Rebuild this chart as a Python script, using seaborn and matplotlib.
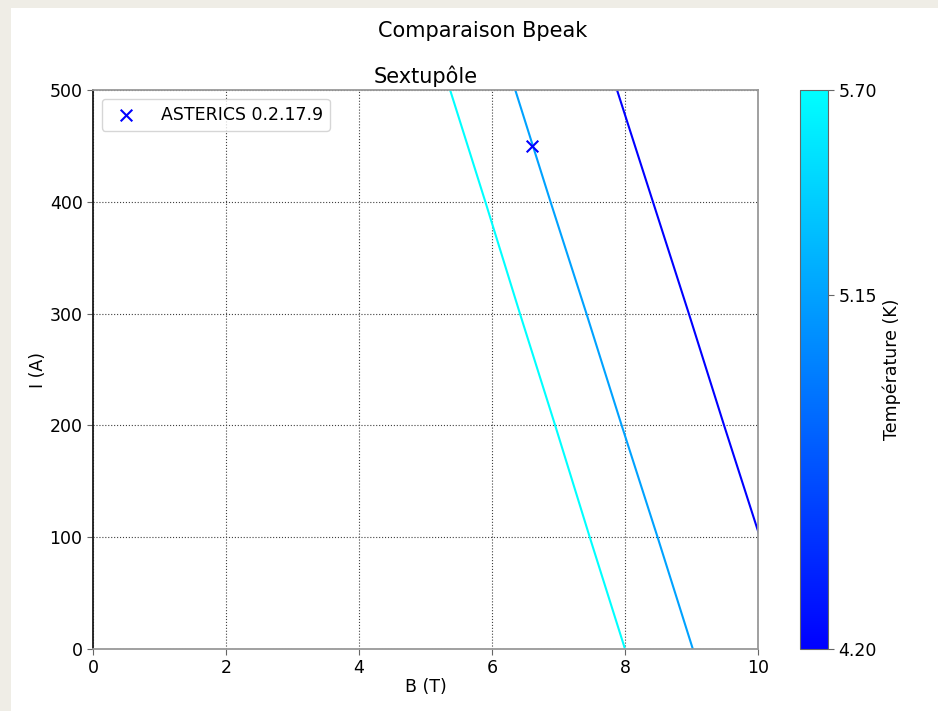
import numpy as np
import pandas as pd
import matplotlib
matplotlib.use("Agg")
import matplotlib.pyplot as plt
from matplotlib.colors import LinearSegmentedColormap, Normalize
from matplotlib.patches import Rectangle
import seaborn as sns

# Data
current_I = [0, 100, 200, 300, 400, 500]
temperatures = [4.20, 5.15, 5.70]
B_T420 = [10.56, 10.03, 9.49, 8.96, 8.42, 7.88]
B_T515 = [9.02, 8.49, 7.95, 7.42, 6.88, 6.35]
B_T570 = [8.00, 7.47, 6.95, 6.42, 5.90, 5.37]
asterics_B = [6.6]
asterics_I = [450]
cbar_ticks = [4.20, 5.15, 5.70]

rows = []
for T, Bs in zip(temperatures, [B_T420, B_T515, B_T570]):
    for i, b in zip(current_I, Bs):
        rows.append({"T": T, "B": b, "I": i})
df = pd.DataFrame(rows)

sns.set_style("white")
plt.rcParams['font.family'] = ['DejaVu Sans']
plt.rcParams['text.color'] = 'black'
plt.rcParams['axes.labelcolor'] = 'black'
plt.rcParams['xtick.color'] = 'black'
plt.rcParams['ytick.color'] = 'black'

W, H = 938, 711
fig = plt.figure(figsize=(W / 100, H / 100), dpi=100)
fig.patch.set_facecolor('#efede6')
fig.patches.append(Rectangle((11 / W, 0), 1 - 11 / W, 1 - 8 / H, transform=fig.transFigure,
                             facecolor='white', edgecolor='none', zorder=-10))

ax = fig.add_axes([93 / W, 1 - 649 / H, (758 - 93) / W, (649 - 90) / H])
cax = fig.add_axes([800 / W, 1 - 649 / H, 28 / W, (649 - 90) / H])

cmap = LinearSegmentedColormap.from_list("bluecyan", ["#0000ff", "#00ffff"])
norm = Normalize(vmin=4.2, vmax=5.7)

sns.lineplot(data=df, x="B", y="I", hue="T", palette=cmap, hue_norm=norm,
             estimator=None, sort=False, legend=False, lw=1.5, ax=ax)
sns.scatterplot(x=asterics_B, y=asterics_I, marker='x', color='blue', s=70,
                linewidth=1.5, label='ASTERICS 0.2.17.9', ax=ax, zorder=5)

ax.set_xlim(0, 10)
ax.set_ylim(0, 500)
ax.set_xticks([0, 2, 4, 6, 8, 10])
ax.set_yticks([0, 100, 200, 300, 400, 500])
ax.grid(True, color='0.25', linestyle=':', linewidth=0.8)
for s in ax.spines.values():
    s.set_color('0.6')
    s.set_linewidth(1.3)
ax.spines['left'].set_color('0.1')
ax.tick_params(axis='both', labelsize=12.5, length=4, color='0.4', direction='out',
               bottom=True, left=True, labelcolor='black')
ax.set_xlabel("B (T)", fontsize=12.5, labelpad=0.5)
ax.set_ylabel("I (A)", fontsize=12.5, labelpad=2)
ax.set_title("Sextupôle", fontsize=15, pad=5)
leg = ax.legend(loc='upper left', fontsize=12.5, frameon=True, borderpad=0.4,
                handletextpad=1.0)
leg.get_frame().set_edgecolor('0.8')

sm = plt.cm.ScalarMappable(cmap=cmap, norm=norm)
cb = fig.colorbar(sm, cax=cax, ticks=cbar_ticks, format='%.2f')
cb.outline.set_edgecolor('0.4')
cb.ax.tick_params(labelsize=12.5, length=4, color='0.4', labelcolor='black')
cb.set_label("Température (K)", fontsize=12.5, labelpad=4)

fig.text(483 / W, 1 - 31 / H, "Comparaison Bpeak", fontsize=15, ha='center', va='center')

fig.savefig("out.png", dpi=100, facecolor=fig.get_facecolor())
